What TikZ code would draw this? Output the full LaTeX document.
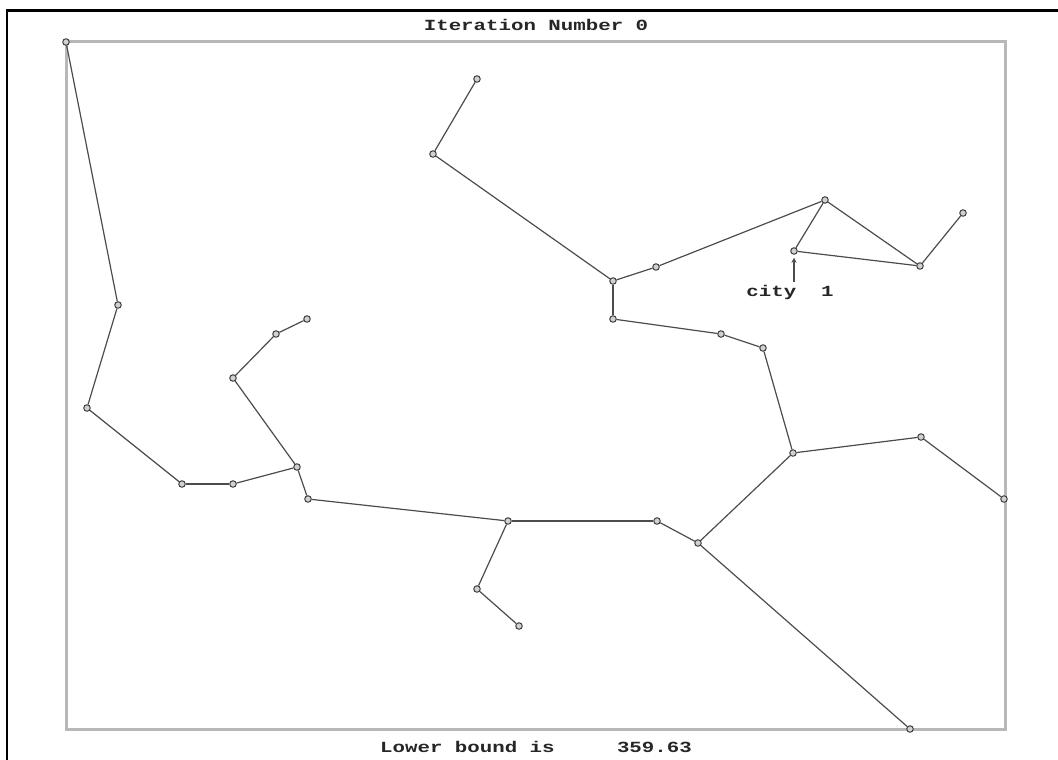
\documentclass[tikz,border=0pt]{standalone}
\usepackage{fontspec}
\newfontfamily\pixfont{Liberation Mono}
\usetikzlibrary{arrows.meta}
\begin{document}
\begin{tikzpicture}[x=1pt,y=-1pt,
  edge/.style={draw=black!70, line width=1.2pt},
  city/.style={circle, draw=black!75, fill=black!18, line width=1pt, inner sep=0pt, minimum size=6.5pt},
  lbl/.style={font=\pixfont\bfseries\fontsize{15.5}{16}\selectfont, text=black!85, inner sep=0pt}]
\useasboundingbox (0,0) rectangle (1058,760);
\draw[black, line width=2.5pt] (7,760) -- (7,10.5) -- (1058,10.5);
\draw[black!28, line width=3pt] (66,42) rectangle (1005,729);
% cities
\node[city] (A) at (66,42) {};
\node[city] (B) at (118,305) {};
\node[city] (C) at (87,408) {};
\node[city] (D) at (182,484) {};
\node[city] (E) at (233,484) {};
\node[city] (F) at (297,467) {};
\node[city] (G) at (233,378) {};
\node[city] (H) at (276,334) {};
\node[city] (I) at (307,319) {};
\node[city] (J) at (308,499) {};
\node[city] (K) at (508,521) {};
\node[city] (L) at (477,589) {};
\node[city] (M) at (519,626) {};
\node[city] (N) at (657,521) {};
\node[city] (O) at (698,543) {};
\node[city] (P) at (910,729) {};
\node[city] (Q) at (793,453) {};
\node[city] (R) at (921,437) {};
\node[city] (S) at (1004,499) {};
\node[city] (T) at (763,348) {};
\node[city] (U) at (721,334) {};
\node[city] (V) at (613,319) {};
\node[city] (W) at (613,281) {};
\node[city] (X) at (433,154) {};
\node[city] (Y) at (477,79) {};
\node[city] (Z) at (656,267) {};
\node[city] (AA) at (825,200) {};
\node[city] (AB) at (794,251) {};
\node[city] (AC) at (920,266) {};
\node[city] (AD) at (963,213) {};
% tree edges
\draw[edge] (A) -- (B);
\draw[edge] (B) -- (C);
\draw[edge] (C) -- (D);
\draw[edge] (D) -- (E);
\draw[edge] (E) -- (F);
\draw[edge] (F) -- (G);
\draw[edge] (G) -- (H);
\draw[edge] (H) -- (I);
\draw[edge] (F) -- (J);
\draw[edge] (J) -- (K);
\draw[edge] (K) -- (L);
\draw[edge] (L) -- (M);
\draw[edge] (K) -- (N);
\draw[edge] (N) -- (O);
\draw[edge] (O) -- (P);
\draw[edge] (O) -- (Q);
\draw[edge] (Q) -- (R);
\draw[edge] (R) -- (S);
\draw[edge] (Q) -- (T);
\draw[edge] (T) -- (U);
\draw[edge] (U) -- (V);
\draw[edge] (V) -- (W);
\draw[edge] (W) -- (X);
\draw[edge] (X) -- (Y);
\draw[edge] (W) -- (Z);
\draw[edge] (Z) -- (AA);
\draw[edge] (AA) -- (AB);
\draw[edge] (AB) -- (AC);
\draw[edge] (AA) -- (AC);
\draw[edge] (AC) -- (AD);
% labels
\node[lbl] (title) at (536,25) {\scalebox{1.34}[1]{Iteration Number 0}};
\node[lbl] (bound) at (536,747) {\scalebox{1.34}[1]{Lower bound is~~~~~359.63}};
\node[lbl] (clab) at (790,292) {\scalebox{1.34}[1]{city~~1}};
\draw[edge, -{Stealth[length=5pt,width=5pt]}, shorten <=3pt, shorten >=3pt] (clab.north -| AB) -- (AB.south);
\end{tikzpicture}
\end{document}
